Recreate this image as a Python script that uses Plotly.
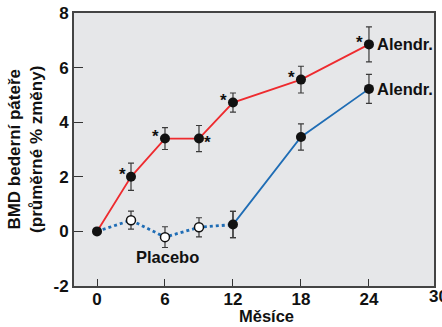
import plotly.graph_objects as go

months_alen = [0, 3, 6, 9, 12, 18, 24]
alen_early = [0, 2.0, 3.4, 3.4, 4.72, 5.56, 6.85]
alen_early_err = [0, 0.5, 0.4, 0.48, 0.35, 0.49, 0.64]

months_plac = [0, 3, 6, 9, 12]
placebo = [0, 0.41, -0.21, 0.15, 0.25]
placebo_err = [0, 0.33, 0.38, 0.35, 0.48]

months_late = [12, 18, 24]
alen_late = [0.25, 3.46, 5.22]
alen_late_err = [0.48, 0.48, 0.53]

star_months = [3, 6, 9, 12, 18, 24]
x_ticks = [0, 6, 12, 18, 24, 30]
y_ticks = [-2, 0, 2, 4, 6, 8]

X_RANGE = [-2.03, 29.74]
FONT = "Liberation Sans"
RED = "#ee2b2f"
BLUE = "#1f6db5"
ERR = "#3a3a3a"
INK = "#111111"

fig = go.Figure()

fig.add_trace(go.Scatter(
    x=months_plac, y=placebo, mode="lines",
    line=dict(color=BLUE, width=2.8, dash="dot"),
    error_y=dict(type="data", array=placebo_err, color=ERR, thickness=1.2, width=3),
    hoverinfo="skip"))
fig.add_trace(go.Scatter(
    x=months_late, y=alen_late, mode="lines",
    line=dict(color=BLUE, width=1.8),
    error_y=dict(type="data", array=alen_late_err, color=ERR, thickness=1.2, width=3),
    hoverinfo="skip"))
fig.add_trace(go.Scatter(
    x=months_alen, y=alen_early, mode="lines",
    line=dict(color=RED, width=1.8),
    error_y=dict(type="data", array=alen_early_err, color=ERR, thickness=1.2, width=3),
    hoverinfo="skip"))

fig.add_trace(go.Scatter(
    x=months_alen, y=alen_early, mode="markers",
    marker=dict(color=INK, size=10, line=dict(width=0))))
fig.add_trace(go.Scatter(
    x=months_late, y=alen_late, mode="markers",
    marker=dict(color=INK, size=10, line=dict(width=0))))
fig.add_trace(go.Scatter(
    x=months_plac[1:4], y=placebo[1:4], mode="markers",
    marker=dict(color="white", size=9, line=dict(color=INK, width=1.5))))

annotations = []
star_offsets = {3: (-9, 2), 6: (-9, 2), 9: (9, -4), 12: (-9, 2), 18: (-9, 2), 24: (-9, 2)}
for m in star_months:
    yv = alen_early[months_alen.index(m)]
    dx, dy = star_offsets[m]
    annotations.append(dict(x=m, y=yv, xref="x", yref="y", text="*", showarrow=False,
                            xshift=dx, yshift=dy,
                            font=dict(family=FONT, size=17, color=INK, weight="bold")))

for yv in (alen_early[-1], alen_late[-1]):
    annotations.append(dict(x=24, y=yv, xref="x", yref="y", text="Alendr.",
                            showarrow=False, xanchor="left", xshift=6,
                            font=dict(family=FONT, size=16.5, color=INK, weight="bold")))
annotations.append(dict(x=6.2, y=-0.95, xref="x", yref="y", text="Placebo",
                        showarrow=False,
                        font=dict(family=FONT, size=16.5, color=INK, weight="bold")))
# last tick label lies just beyond the axis range (as in the original), place in paper coords
x30 = (x_ticks[-1] - X_RANGE[0]) / (X_RANGE[1] - X_RANGE[0])
annotations.append(dict(x=x30, y=0, xref="paper", yref="paper", text=str(x_ticks[-1]),
                        showarrow=False, xanchor="left", xshift=-10, yanchor="top", yshift=1,
                        font=dict(family=FONT, size=17, color=INK, weight="bold")))
annotations.append(dict(x=15, y=0, xref="x", yref="paper", text="Měsíce", showarrow=False,
                        yanchor="top", yshift=-19,
                        font=dict(family=FONT, size=16.5, color=INK, weight="bold")))
annotations.append(dict(x=-0.135, y=0.5, xref="paper", yref="paper",
                        xanchor="center", yanchor="middle",
                        text="BMD bederní páteře<br>(průměrné % změny)", showarrow=False,
                        textangle=-90,
                        font=dict(family=FONT, size=17, color=INK, weight="bold")))

fig.update_layout(
    width=442, height=327,
    margin=dict(l=74, r=8, t=13, b=41),
    paper_bgcolor="white", plot_bgcolor="#e6e7e9",
    showlegend=False,
    annotations=annotations,
    xaxis=dict(range=X_RANGE, tickvals=x_ticks[:-1], ticktext=[str(v) for v in x_ticks[:-1]],
               ticks="inside", ticklen=7, tickwidth=1.2, tickcolor="#333333",
               ticklabelstandoff=-3,
               showgrid=False, zeroline=False, showline=True, linecolor="#444444",
               linewidth=2, mirror=True, automargin=False,
               tickfont=dict(family=FONT, size=17, color=INK, weight="bold")),
    yaxis=dict(range=[-2, 8], tickvals=y_ticks, ticktext=[str(v) for v in y_ticks],
               ticks="inside", ticklen=9, tickwidth=1.2, tickcolor="#333333",
               showgrid=False, zeroline=False, showline=True, linecolor="#444444",
               linewidth=2, mirror=True, automargin=False,
               tickfont=dict(family=FONT, size=17, color=INK, weight="bold")),
)

fig.write_html("out.html", config={"displayModeBar": False},
               post_script="document.body.style.margin='0';document.body.style.overflow='hidden';")
